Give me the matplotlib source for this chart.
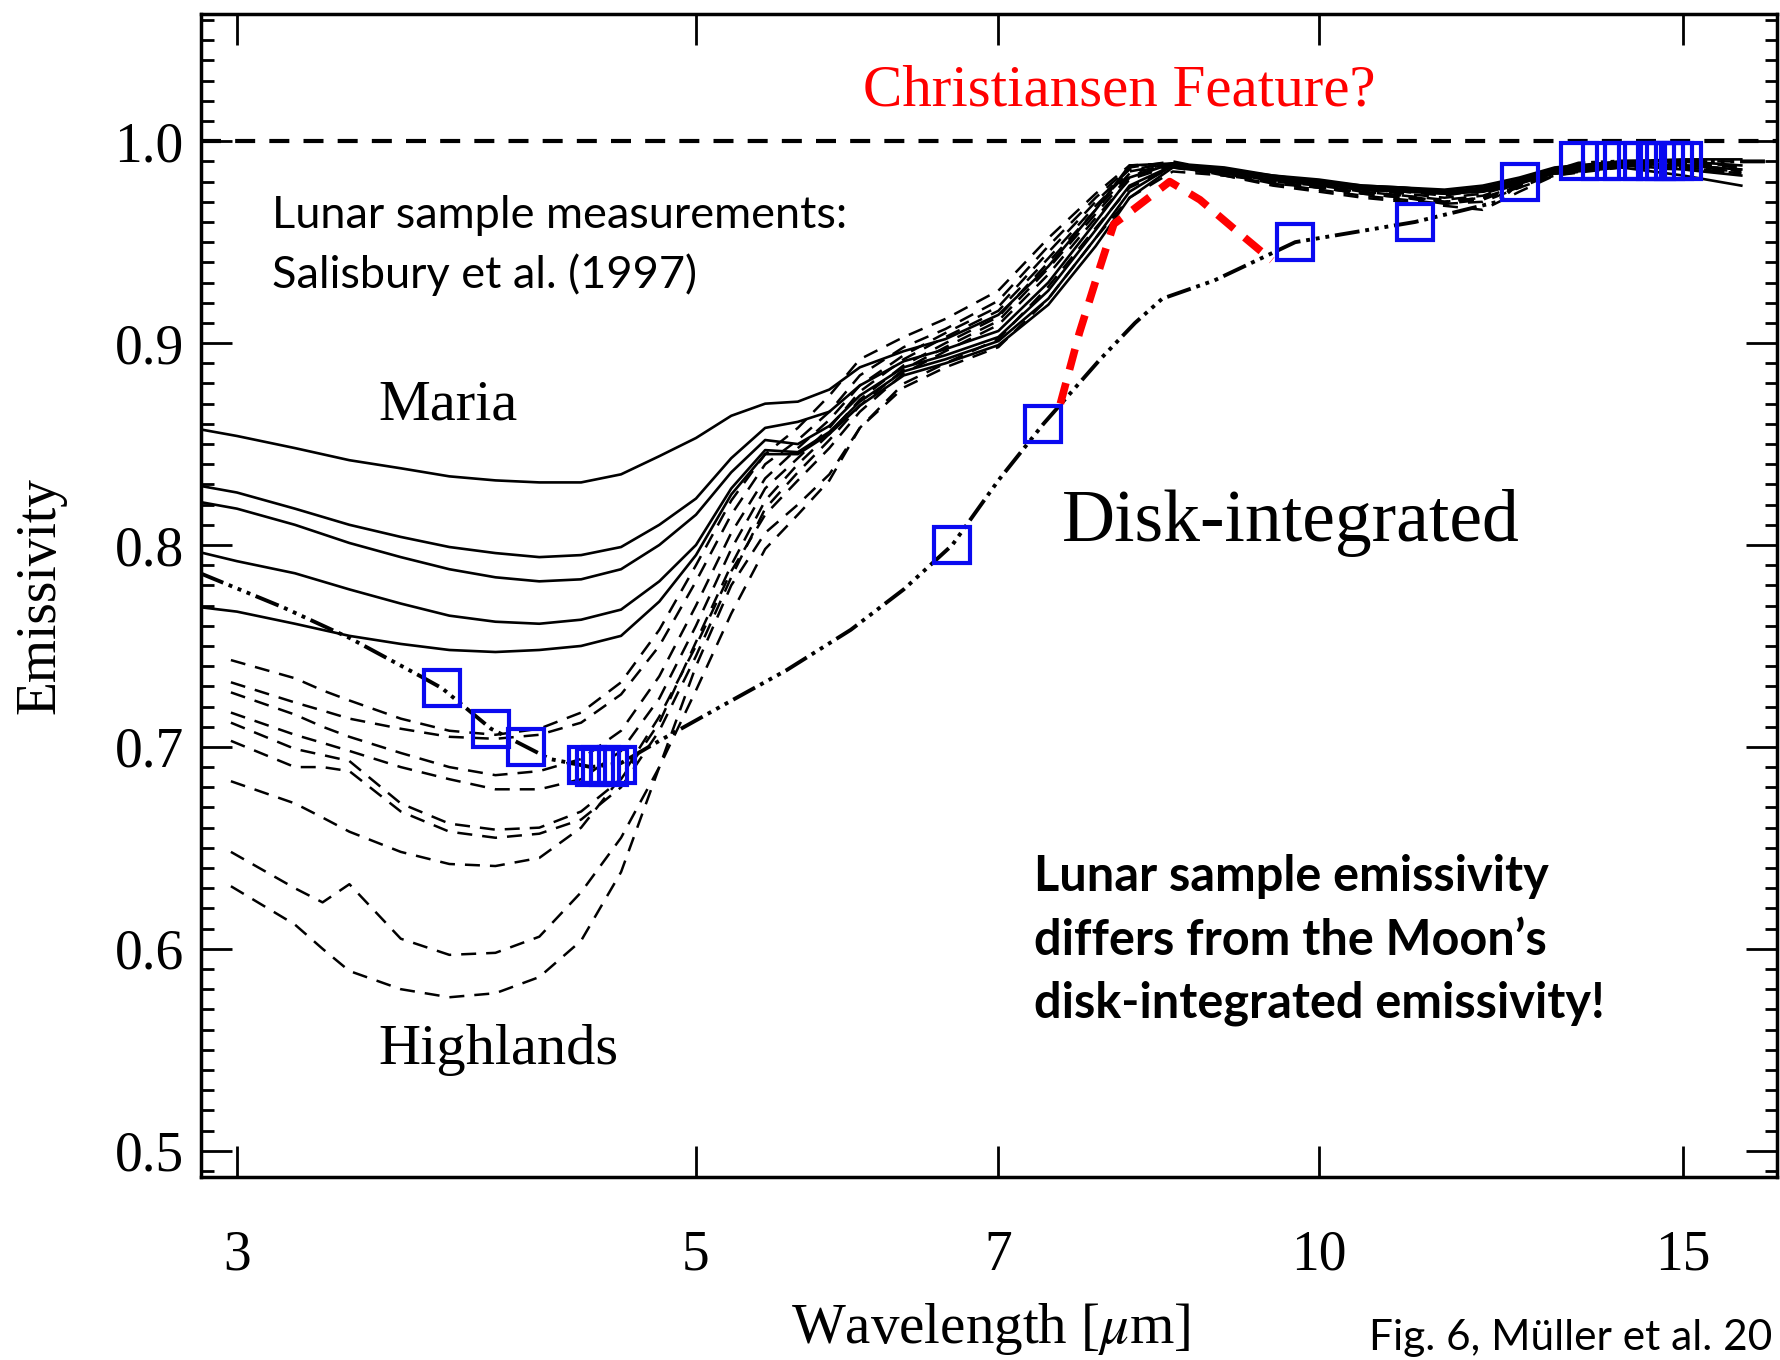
import matplotlib
matplotlib.use('Agg')
import matplotlib.pyplot as plt
from matplotlib.ticker import FixedLocator, MultipleLocator

plt.rcParams['font.family'] = ['Liberation Serif', 'DejaVu Serif']
plt.rcParams['mathtext.fontset'] = 'stix'

# lunar sample spectra (Salisbury et al. 1997)
maria_wl = [2.89, 3.0, 3.2, 3.4, 3.6, 3.8, 4.0, 4.2, 4.4, 4.6, 4.8, 5.0, 5.2, 5.4, 5.6, 5.8,
            6.0, 6.3, 6.6, 7.0, 7.4, 7.8, 8.1, 8.5, 9.0, 9.5, 10.0, 10.5, 11.0, 11.5, 12.0,
            12.5, 13.0, 14.0, 15.0, 16.0]
maria_1 = [0.857, 0.854, 0.848, 0.842, 0.838, 0.834, 0.832, 0.831, 0.831, 0.835, 0.844, 0.853,
           0.864, 0.870, 0.871, 0.877, 0.888, 0.896, 0.902, 0.914, 0.938, 0.966, 0.988, 0.989,
           0.987, 0.983, 0.981, 0.978, 0.977, 0.976, 0.978, 0.982, 0.987, 0.990, 0.991, 0.991]
maria_2 = [0.829, 0.826, 0.818, 0.810, 0.804, 0.799, 0.796, 0.794, 0.795, 0.799, 0.810, 0.823,
           0.843, 0.858, 0.861, 0.866, 0.879, 0.891, 0.897, 0.906, 0.930, 0.960, 0.982, 0.989,
           0.986, 0.983, 0.980, 0.978, 0.977, 0.975, 0.977, 0.981, 0.986, 0.990, 0.990, 0.988]
maria_3 = [0.821, 0.818, 0.810, 0.801, 0.794, 0.788, 0.784, 0.782, 0.783, 0.788, 0.800, 0.815,
           0.836, 0.852, 0.850, 0.859, 0.874, 0.888, 0.894, 0.903, 0.926, 0.956, 0.978, 0.988,
           0.986, 0.982, 0.980, 0.977, 0.976, 0.975, 0.976, 0.980, 0.986, 0.989, 0.988, 0.986]
maria_4 = [0.796, 0.792, 0.786, 0.778, 0.771, 0.765, 0.762, 0.761, 0.763, 0.768, 0.782, 0.800,
           0.828, 0.847, 0.846, 0.856, 0.871, 0.886, 0.892, 0.901, 0.922, 0.952, 0.975, 0.988,
           0.985, 0.982, 0.979, 0.977, 0.976, 0.974, 0.976, 0.980, 0.985, 0.988, 0.986, 0.983]
maria_5 = [0.769, 0.767, 0.761, 0.755, 0.751, 0.748, 0.747, 0.748, 0.750, 0.755, 0.772, 0.795,
           0.825, 0.845, 0.845, 0.855, 0.869, 0.884, 0.890, 0.899, 0.919, 0.948, 0.972, 0.987,
           0.984, 0.981, 0.979, 0.976, 0.975, 0.974, 0.975, 0.979, 0.984, 0.987, 0.983, 0.978]

high_wl = [2.98, 3.2, 3.3, 3.4, 3.6, 3.8, 4.0, 4.2, 4.4, 4.6, 4.8, 5.0, 5.2, 5.4, 5.6, 5.8,
           6.0, 6.3, 6.6, 7.0, 7.4, 7.8, 8.1, 8.5, 9.0, 9.5, 10.0, 10.5, 11.0, 11.5, 12.0,
           12.5, 13.0, 14.0, 15.0, 16.0]
high_1 = [0.743, 0.734, 0.728, 0.723, 0.714, 0.708, 0.706, 0.709, 0.717, 0.732, 0.758, 0.790,
          0.822, 0.845, 0.858, 0.874, 0.892, 0.903, 0.912, 0.926, 0.952, 0.974, 0.988, 0.989,
          0.984, 0.981, 0.979, 0.976, 0.975, 0.973, 0.976, 0.981, 0.986, 0.989, 0.990, 0.990]
high_2 = [0.732, 0.722, 0.718, 0.714, 0.709, 0.705, 0.704, 0.706, 0.712, 0.726, 0.750, 0.782,
          0.815, 0.840, 0.852, 0.866, 0.884, 0.898, 0.907, 0.921, 0.948, 0.972, 0.987, 0.990,
          0.985, 0.982, 0.980, 0.977, 0.975, 0.974, 0.975, 0.980, 0.986, 0.989, 0.989, 0.988]
high_3 = [0.727, 0.716, 0.710, 0.705, 0.697, 0.690, 0.686, 0.688, 0.694, 0.708, 0.735, 0.770,
          0.806, 0.833, 0.848, 0.862, 0.879, 0.894, 0.905, 0.918, 0.945, 0.970, 0.986, 0.989,
          0.984, 0.981, 0.978, 0.976, 0.974, 0.972, 0.974, 0.979, 0.985, 0.989, 0.988, 0.986]
high_4 = [0.717, 0.706, 0.702, 0.698, 0.690, 0.684, 0.679, 0.679, 0.684, 0.698, 0.724, 0.760,
          0.798, 0.828, 0.843, 0.858, 0.876, 0.892, 0.903, 0.916, 0.942, 0.968, 0.985, 0.989,
          0.985, 0.980, 0.978, 0.975, 0.973, 0.971, 0.973, 0.979, 0.985, 0.988, 0.989, 0.987]
high_5 = [0.712, 0.699, 0.696, 0.693, 0.672, 0.662, 0.659, 0.660, 0.668, 0.684, 0.712, 0.752,
          0.790, 0.822, 0.840, 0.855, 0.872, 0.889, 0.900, 0.913, 0.940, 0.966, 0.984, 0.989,
          0.984, 0.980, 0.977, 0.975, 0.973, 0.970, 0.972, 0.978, 0.984, 0.988, 0.988, 0.985]
high_6 = [0.703, 0.690, 0.690, 0.688, 0.668, 0.658, 0.655, 0.657, 0.664, 0.680, 0.708, 0.745,
          0.784, 0.818, 0.836, 0.852, 0.869, 0.887, 0.898, 0.911, 0.937, 0.964, 0.983, 0.988,
          0.983, 0.980, 0.977, 0.974, 0.972, 0.969, 0.971, 0.978, 0.984, 0.988, 0.987, 0.984]
high_7 = [0.683, 0.672, 0.665, 0.658, 0.648, 0.642, 0.641, 0.645, 0.660, 0.685, 0.715, 0.750,
          0.787, 0.815, 0.832, 0.848, 0.866, 0.885, 0.896, 0.909, 0.934, 0.962, 0.981, 0.988,
          0.984, 0.979, 0.977, 0.974, 0.972, 0.970, 0.972, 0.977, 0.984, 0.988, 0.988, 0.986]
high_8 = [0.648, 0.630, 0.623, 0.632, 0.605, 0.597, 0.598, 0.606, 0.628, 0.655, 0.690, 0.728,
          0.766, 0.798, 0.815, 0.832, 0.858, 0.880, 0.890, 0.902, 0.928, 0.957, 0.977, 0.987,
          0.983, 0.979, 0.976, 0.973, 0.971, 0.969, 0.970, 0.977, 0.983, 0.988, 0.987, 0.985]
high_9 = [0.631, 0.612, 0.600, 0.589, 0.580, 0.576, 0.578, 0.586, 0.604, 0.638, 0.690, 0.740,
          0.780, 0.806, 0.820, 0.835, 0.858, 0.878, 0.888, 0.898, 0.922, 0.952, 0.972, 0.985,
          0.983, 0.978, 0.975, 0.972, 0.970, 0.968, 0.966, 0.975, 0.983, 0.987, 0.986, 0.984]

# disk-integrated emissivity of the Moon
disk_wl = [2.88, 3.16, 3.40, 3.68, 3.77, 3.98, 4.14, 4.25, 4.45, 4.60, 4.80, 5.14, 5.53, 5.94,
           6.30, 6.65, 7.0, 7.36, 7.84, 8.15, 8.40, 8.9, 9.74, 11.13, 12.2, 12.51, 13.35,
           14.0, 15.0, 16.5]
disk_em = [0.786, 0.769, 0.754, 0.735, 0.729, 0.709, 0.700, 0.694, 0.690, 0.692, 0.703, 0.720,
           0.738, 0.758, 0.778, 0.800, 0.832, 0.860, 0.892, 0.910, 0.922, 0.931, 0.950, 0.960,
           0.970, 0.980, 0.989, 0.990, 0.990, 0.990]

# wavelengths of the disk-integrated samples (blue squares)
sq_wl = [3.77, 3.98, 4.14, 4.43, 4.47, 4.50, 4.54, 4.58, 6.65, 7.36, 9.74, 11.13, 12.51,
         13.35, 13.68, 14.02, 14.35, 14.55, 14.70, 14.85, 15.0]
sq_em = [0.729, 0.709, 0.700, 0.691, 0.690, 0.691, 0.690, 0.691, 0.800, 0.860, 0.950, 0.960,
         0.980, 0.990, 0.990, 0.990, 0.990, 0.990, 0.990, 0.990, 0.990]

# possible Christiansen feature (red dashed)
cf_wl = [7.50, 7.66, 7.84, 7.96, 8.13, 8.47, 8.76, 9.09, 9.49]
cf_em = [0.870, 0.905, 0.938, 0.959, 0.966, 0.980, 0.971, 0.957, 0.941]

x_ticks = [3, 5, 7, 10, 15]
y_ticks = [0.5, 0.6, 0.7, 0.8, 0.9, 1.0]

fig = plt.figure(figsize=(17.81, 13.60), dpi=100)
ax = fig.add_axes([0.1126, 0.1346, 0.8852, 0.8551])
ax.set_xscale('log')
ax.set_xlim(2.881, 16.65)
ax.set_ylim(0.487, 1.063)

for ys in [high_1, high_2, high_3, high_4, high_5, high_6, high_7, high_8, high_9]:
    ax.plot(high_wl, ys, color='black', lw=1.8, ls=(0, (6, 4)))
for ys in [maria_1, maria_2, maria_3, maria_4, maria_5]:
    ax.plot(maria_wl, ys, color='black', lw=1.9)

ax.axhline(1.0, color='black', lw=3, ls=(0, (4.8, 3.4)))
ax.plot(disk_wl, disk_em, color='black', lw=2.8,
        ls=(0, (6.4, 1.5, 1, 1.5, 1, 1.5, 1, 1.5)))
ax.plot(cf_wl, cf_em, color='#ff0000', lw=5.5, ls=(0, (2.8, 1.8)))
ax.plot(sq_wl, sq_em, ls='none', marker='s', markersize=26, markeredgewidth=3,
        markerfacecolor='none', markeredgecolor='#0a0af0')

# axes styling
for sp in ax.spines.values():
    sp.set_linewidth(2.5)
ax.xaxis.set_major_locator(FixedLocator(x_ticks))
ax.xaxis.set_minor_locator(FixedLocator([]))
ax.set_xticklabels([str(t) for t in x_ticks])
ax.yaxis.set_major_locator(FixedLocator(y_ticks))
ax.yaxis.set_minor_locator(MultipleLocator(0.01))
ax.set_yticklabels([f'{t:.1f}' for t in y_ticks])
ax.tick_params(axis='both', which='both', direction='in', top=True, right=True, width=2)
ax.tick_params(axis='both', which='major', length=22, labelsize=40)
ax.tick_params(axis='both', which='minor', length=9)
ax.tick_params(axis='x', which='major', pad=38)
ax.tick_params(axis='y', which='major', pad=12)

fig.text(40 / 1781, 1 - 596 / 1360, 'Emissivity', rotation=90, ha='center', va='center',
         fontsize=40)
fig.text(991 / 1781, 1 - 1329 / 1360, 'Wavelength [$\\mu$m]', ha='center', va='center',
         fontsize=41)

# annotations
ax.text(8.01, 1.0248, 'Christiansen Feature?', color='#ff0000', fontsize=42.5,
        ha='center', va='center')
ax.text(3.51, 0.869, 'Maria', fontsize=42, ha='left', va='center')
ax.text(3.51, 0.550, 'Highlands', fontsize=42, ha='left', va='center')
ax.text(7.51, 0.811, 'Disk-integrated', fontsize=53, ha='left', va='center')

sans = ['Lato', 'DejaVu Sans']
ax.text(3.12, 0.963, 'Lunar sample measurements:', family=sans, fontsize=32.5,
        ha='left', va='center')
ax.text(3.12, 0.934, 'Salisbury et al. (1997)', family=sans, fontsize=32.5,
        ha='left', va='center')
for txt, yy in [('Lunar sample emissivity', 0.636),
                ('differs from the Moon\u2019s', 0.604),
                ('disk-integrated emissivity!', 0.573)]:
    ax.text(7.28, yy, txt, family=sans, fontsize=35, fontweight='bold',
            ha='left', va='center')

fig.text(1369 / 1781, 1 - 1338 / 1360, 'Fig. 6, M\u00fcller et al. 20', family=sans,
         fontsize=30.5, ha='left', va='center')

fig.savefig('out.png', dpi=100)
